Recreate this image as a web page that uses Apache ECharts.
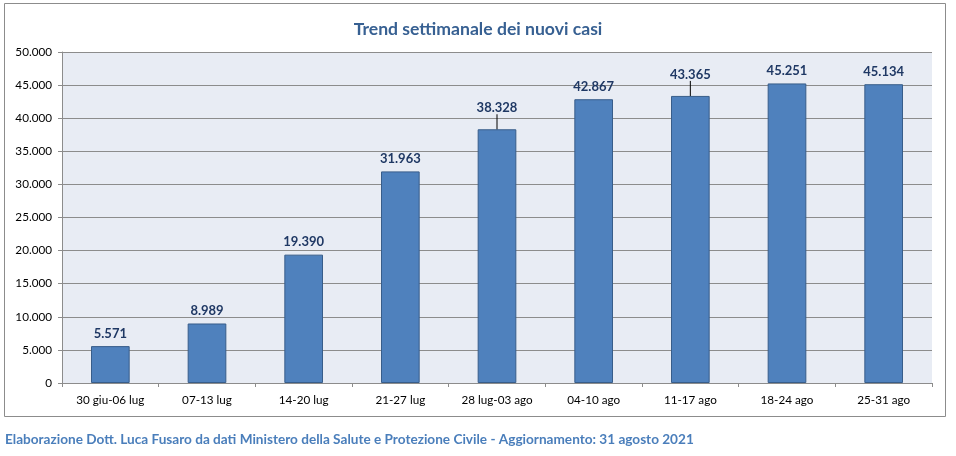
<!DOCTYPE html>
<html><head><meta charset="utf-8">
<script src="https://cdn.jsdelivr.net/npm/echarts@6/dist/echarts.min.js"></script>
<style>html,body{margin:0;padding:0;background:#fff}#c{width:956px;height:456px}</style>
</head><body><div id="c"></div>
<script>
var categories = ["30 giu-06 lug","07-13 lug","14-20 lug","21-27 lug","28 lug-03 ago","04-10 ago","11-17 ago","18-24 ago","25-31 ago"];
var newCases = [5571, 8989, 19390, 31963, 38328, 42867, 43365, 45251, 45134];
var yTicks = {min: 0, max: 50000, interval: 5000};
var titleText = "Trend settimanale dei nuovi casi";
var footerText = "Elaborazione Dott. Luca Fusaro da dati Ministero della Salute e Protezione Civile - Aggiornamento: 31 agosto 2021";
var movedLabels = [4, 6];

function fmt(v){ return String(v).replace(/\B(?=(\d{3})+(?!\d))/g, "."); }
var FONT = "Lato, 'Open Sans', sans-serif";
var barData = newCases.map(function(v, i){
  return movedLabels.indexOf(i) >= 0 ? {value: v, labelLine: {show: true}} : {value: v};
});
var chart = echarts.init(document.getElementById('c'));
chart.setOption({
  animation: false,
  backgroundColor: '#fff',
  title: {text: titleText, left: 'center', top: 15,
    textStyle: {fontFamily: FONT, fontSize: 17.6, fontWeight: 'bold', color: '#376092'}},
  graphic: [
    {type: 'rect', shape: {x: 4.5, y: 3.5, width: 941, height: 413}, style: {fill: 'none', stroke: '#8c8c8c', lineWidth: 1}, z: -1},
    {type: 'text', left: 5, top: 433, style: {text: footerText, font: "bold 13.6px " + FONT, fill: '#4a7ebb'}}
  ],
  grid: {left: 62, right: 24, top: 52, bottom: 73, show: true, backgroundColor: '#e8ecf4', borderWidth: 0},
  xAxis: {type: 'category', data: categories,
    axisLine: {lineStyle: {color: '#8c8c8c'}},
    axisTick: {show: true, length: 4, lineStyle: {color: '#8c8c8c'}},
    axisLabel: {color: '#000', fontFamily: FONT, fontSize: 11.7, margin: 11, interval: 0}},
  yAxis: {type: 'value', min: yTicks.min, max: yTicks.max, interval: yTicks.interval,
    axisLine: {show: true, lineStyle: {color: '#8c8c8c'}},
    axisTick: {show: true, length: 4, lineStyle: {color: '#8c8c8c'}},
    splitLine: {lineStyle: {color: '#8c8c8c'}},
    axisLabel: {color: '#000', fontFamily: FONT, fontSize: 11.7, margin: 10, formatter: fmt}},
  series: [{type: 'bar', data: barData, barCategoryGap: '60%',
    itemStyle: {color: '#4f81bd', borderColor: '#385d8a', borderWidth: 1},
    label: {show: true, position: 'top', distance: 6, color: '#1f3864', fontFamily: FONT, fontWeight: 'bold', fontSize: 13,
      formatter: function(p){ return fmt(p.value); }},
    labelLine: {show: false, lineStyle: {color: '#000', width: 1}},
    labelLayout: function(p){ return movedLabels.indexOf(p.dataIndex) >= 0 ? {dy: -9} : {}; }
  }]
});
</script></body></html>
